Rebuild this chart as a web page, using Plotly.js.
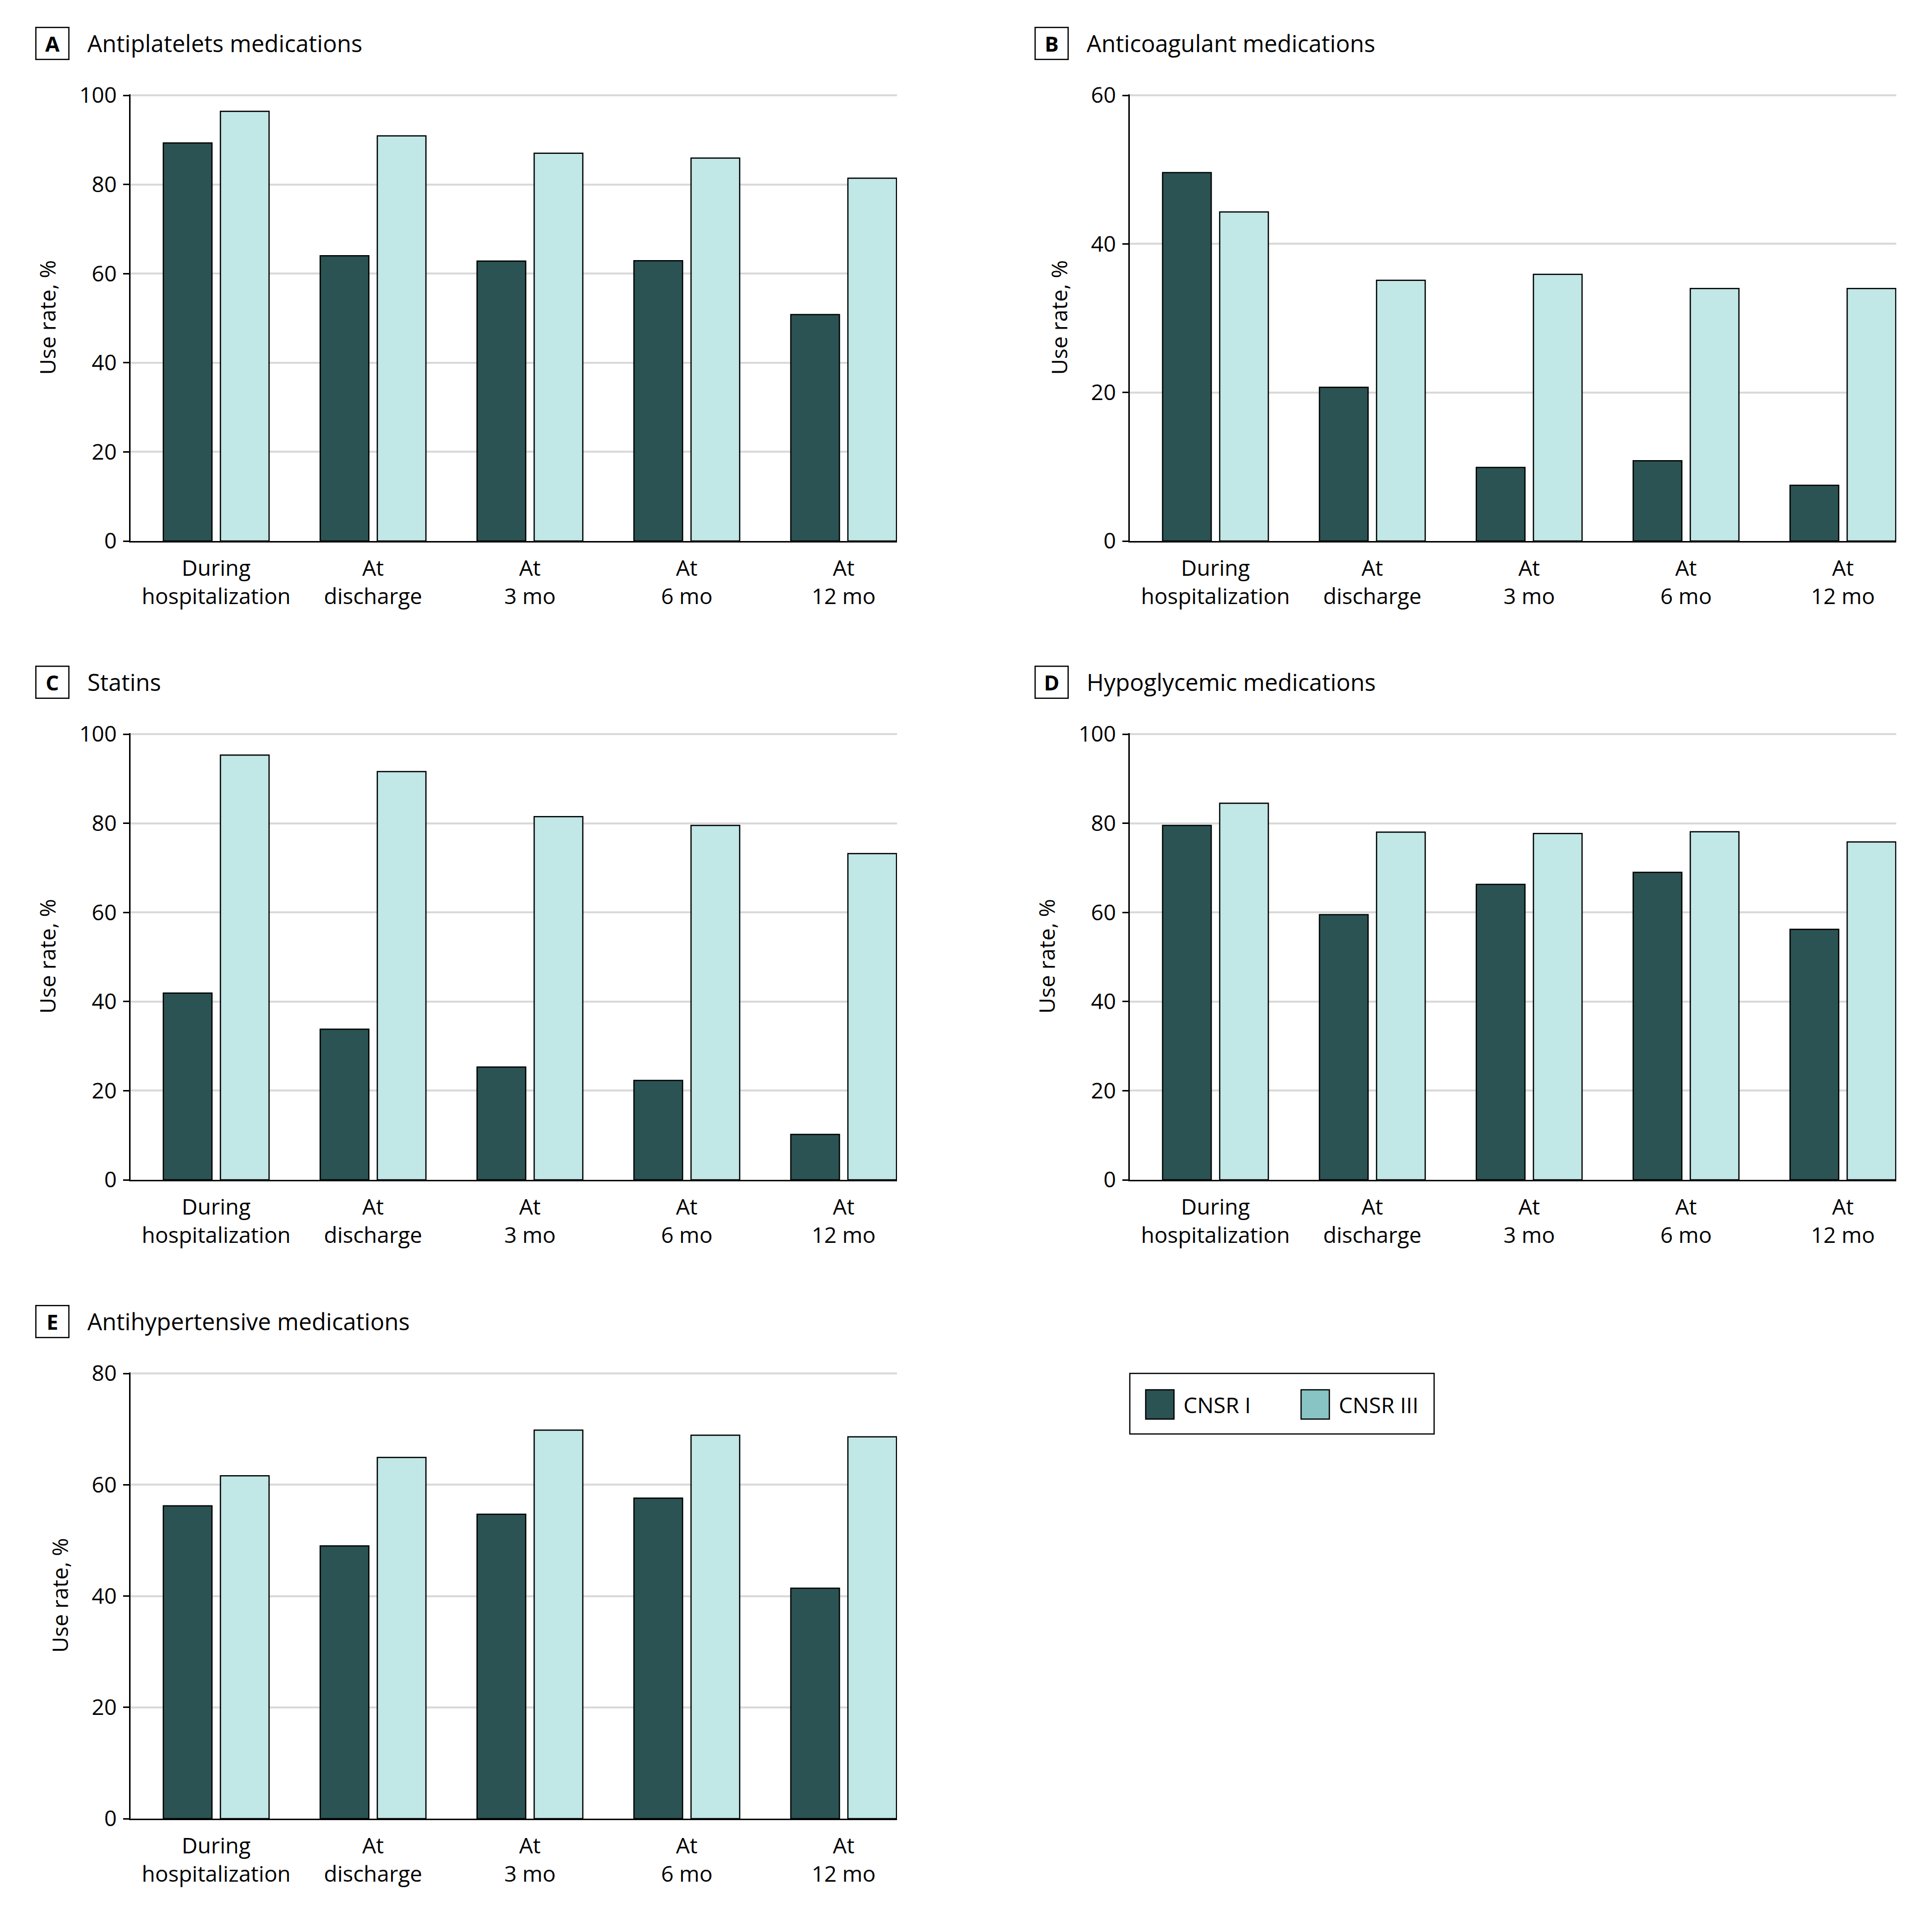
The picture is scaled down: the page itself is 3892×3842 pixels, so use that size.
<!DOCTYPE html>
<html>
<head>
<meta charset="utf-8">
<script src="https://cdn.plot.ly/plotly-3.0.1.min.js"></script>
<style>
  html, body { margin: 0; padding: 0; background: #ffffff; }
  #chart { width: 3892px; height: 3842px; }
</style>
</head>
<body>
<div id="chart"></div>
<script>
// ---------- data ----------
const timepoints = ["During hospitalization", "At discharge", "At 3 mo", "At 6 mo", "At 12 mo"];
const tickLabels = ["During<br>hospitalization", "At<br>discharge", "At<br>3 mo", "At<br>6 mo", "At<br>12 mo"];
const seriesNames = ["CNSR I", "CNSR III"];

const antiplateletsCNSR1 = [89.3, 64.0, 62.8, 62.9, 50.8];
const antiplateletsCNSR3 = [96.4, 90.9, 87.0, 85.9, 81.4];

const anticoagulantCNSR1 = [49.6, 20.7, 9.9, 10.8, 7.5];
const anticoagulantCNSR3 = [44.3, 35.1, 35.9, 34.0, 34.0];

const statinsCNSR1 = [41.9, 33.8, 25.3, 22.3, 10.2];
const statinsCNSR3 = [95.3, 91.6, 81.5, 79.5, 73.2];

const hypoglycemicCNSR1 = [79.5, 59.5, 66.3, 69.0, 56.2];
const hypoglycemicCNSR3 = [84.5, 78.0, 77.7, 78.1, 75.8];

const antihypertensiveCNSR1 = [56.2, 49.0, 54.7, 57.6, 41.4];
const antihypertensiveCNSR3 = [61.6, 64.9, 69.8, 68.9, 68.6];

const panelLetters = ["A", "B", "C", "D", "E"];
const panelTitles = ["Antiplatelets medications", "Anticoagulant medications", "Statins",
                     "Hypoglycemic medications", "Antihypertensive medications"];
const yMax = [100, 60, 100, 100, 80];
const yTickStep = 20;
const yAxisTitle = "Use rate, %";

// ---------- styling ----------
const W = 3892, H = 3842;
const FONT = "Open Sans, Noto Sans, DejaVu Sans, sans-serif";
const DARK = "#2b5353";
const LIGHT = "#c1e7e6";
const LEGEND_LIGHT = "#88c4c3";
const GRID = "#d9d9d9";

const panelData = [
  [antiplateletsCNSR1, antiplateletsCNSR3],
  [anticoagulantCNSR1, anticoagulantCNSR3],
  [statinsCNSR1, statinsCNSR3],
  [hypoglycemicCNSR1, hypoglycemicCNSR3],
  [antihypertensiveCNSR1, antihypertensiveCNSR3]
];

// pixel boxes of each plot area [left, right, top, bottom]
const colX = [[263, 1807], [2276, 3820]];
const rowY = [[192, 1090], [1479, 2377], [2767, 3664]];
const panelBox = [
  [colX[0], rowY[0]], [colX[1], rowY[0]],
  [colX[0], rowY[1]], [colX[1], rowY[1]],
  [colX[0], rowY[2]]
];

const px = x => x / W;
const py = y => 1 - y / H;

const traces = [];
const layout = {
  width: W, height: H,
  margin: {l: 0, r: 0, t: 0, b: 0, pad: 0},
  paper_bgcolor: "#ffffff",
  plot_bgcolor: "rgba(0,0,0,0)",
  font: {family: FONT, size: 44, color: "#000000"},
  barmode: "group",
  bargap: 0.272,
  bargroupgap: 0.148,
  showlegend: false,
  annotations: [],
  shapes: []
};

panelData.forEach((pair, i) => {
  const n = i + 1;
  const xa = n === 1 ? "x" : "x" + n;
  const ya = n === 1 ? "y" : "y" + n;
  pair.forEach((vals, s) => {
    traces.push({
      type: "bar",
      x: timepoints,
      y: vals,
      name: seriesNames[s],
      xaxis: xa, yaxis: ya,
      marker: {color: s === 0 ? DARK : LIGHT, line: {color: "#000000", width: 2.5}},
      hoverinfo: "skip"
    });
  });
  const [[l, r], [t, b]] = panelBox[i];
  const ticks = [];
  for (let v = 0; v <= yMax[i]; v += yTickStep) ticks.push(v);
  const top = yMax[i] * (1 + 2.5 / (b - t)); // tiny headroom so the top gridline is kept
  const tAdj = t - 2.5;
  layout[(n === 1 ? "xaxis" : "xaxis" + n)] = {
    domain: [px(l), px(r)],
    anchor: ya,
    type: "category",
    categoryorder: "array",
    categoryarray: timepoints,
    tickvals: timepoints,
    ticktext: tickLabels,
    range: [-0.546, 4.34],
    showline: true, linecolor: "#000000", linewidth: 3,
    ticks: "", showgrid: false, zeroline: false,
    ticklabelstandoff: 14,
    tickfont: {family: FONT, size: 44, color: "#000000"},
    fixedrange: true
  };
  layout[(n === 1 ? "yaxis" : "yaxis" + n)] = {
    domain: [py(b), py(tAdj)],
    anchor: xa,
    range: [0, top],
    tickmode: "array",
    tickvals: ticks,
    ticktext: ticks.map(String),
    showline: true, linecolor: "#000000", linewidth: 3,
    ticks: "outside", ticklen: 12, tickwidth: 3, tickcolor: "#000000",
    ticklabelstandoff: 4,
    showgrid: true, gridcolor: GRID, gridwidth: 4,
    zeroline: false,
    tickfont: {family: FONT, size: 44, color: "#000000"},
    title: {text: yAxisTitle, standoff: 34, font: {family: FONT, size: 44, color: "#000000"}},
    fixedrange: true
  };

  // panel letter box + title
  const boxLeft = l - 191;
  const titleY = t - 105;
  layout.annotations.push({
    xref: "paper", yref: "paper",
    x: px(boxLeft + 33.5), y: py(titleY),
    xanchor: "center", yanchor: "middle",
    text: "<b>" + panelLetters[i] + "</b>",
    showarrow: false,
    font: {family: FONT, size: 42, color: "#000000"},
    bordercolor: "#000000", borderwidth: 2.5, borderpad: 0,
    width: 64, height: 62, align: "center", valign: "middle"
  });
  layout.annotations.push({
    xref: "paper", yref: "paper",
    x: px(boxLeft + 102), y: py(titleY),
    xanchor: "left", yanchor: "middle",
    text: panelTitles[i],
    showarrow: false,
    font: {family: FONT, size: 47, color: "#000000"}
  });
});

// ---------- legend (drawn manually) ----------
const legBox = {l: 2276, r: 2889, t: 2767, b: 2889};
layout.shapes.push({
  type: "rect", xref: "paper", yref: "paper",
  x0: px(legBox.l), x1: px(legBox.r), y0: py(legBox.b), y1: py(legBox.t),
  line: {color: "#000000", width: 2.5}, fillcolor: "rgba(0,0,0,0)"
});
const legItems = [
  {x: 2308, color: DARK, label: seriesNames[0]},
  {x: 2621, color: LEGEND_LIGHT, label: seriesNames[1]}
];
legItems.forEach(it => {
  layout.shapes.push({
    type: "rect", xref: "paper", yref: "paper",
    x0: px(it.x), x1: px(it.x + 57), y0: py(2859), y1: py(2800),
    line: {color: "#000000", width: 2.5}, fillcolor: it.color
  });
  layout.annotations.push({
    xref: "paper", yref: "paper",
    x: px(it.x + 74), y: py(2830),
    xanchor: "left", yanchor: "middle",
    text: it.label, showarrow: false,
    font: {family: FONT, size: 44, color: "#000000"}
  });
});

Plotly.newPlot("chart", traces, layout, {staticPlot: true, displayModeBar: false});
</script>
</body>
</html>
